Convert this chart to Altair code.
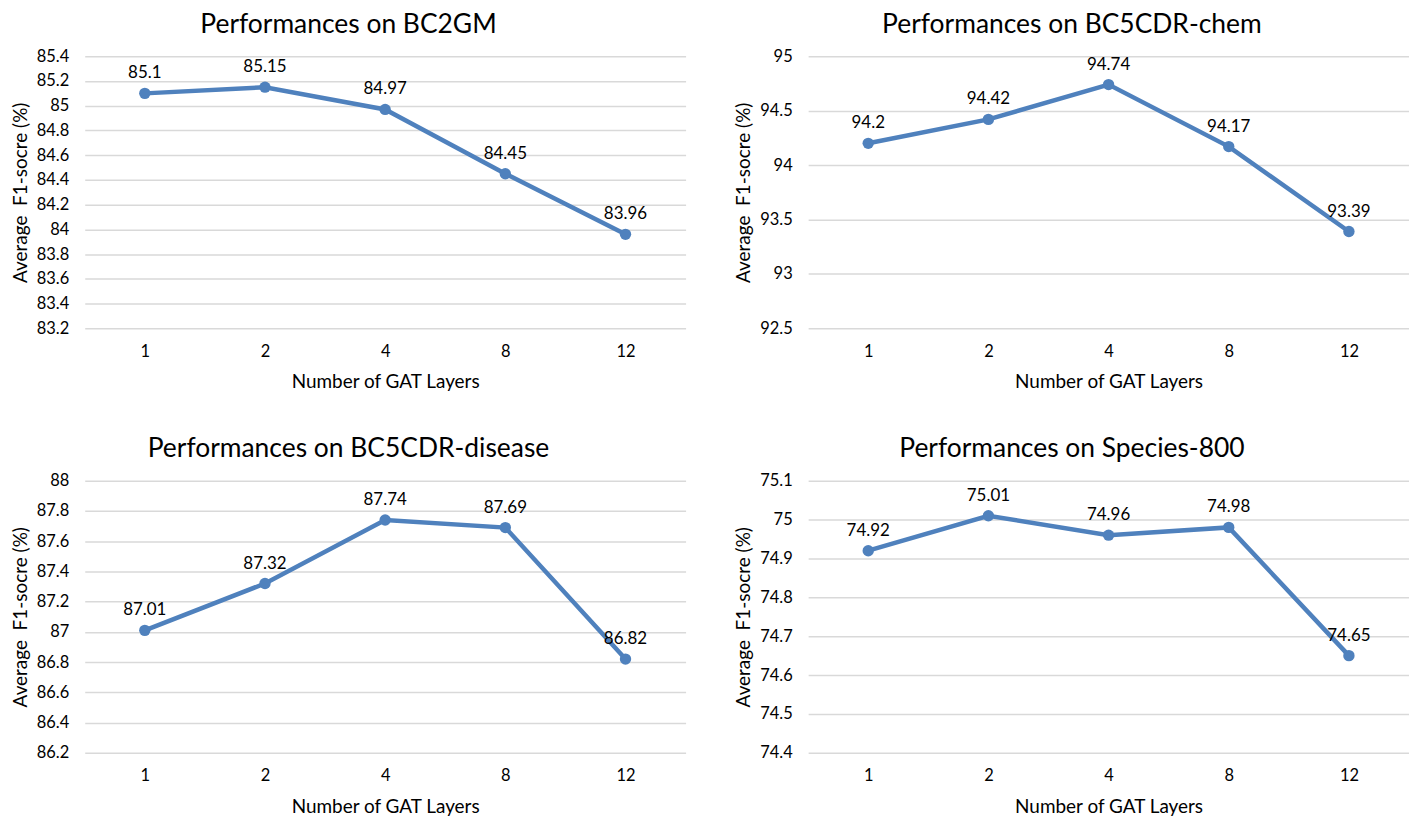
import altair as alt
import pandas as pd

layers = ["1", "2", "4", "8", "12"]

title_bc2gm = "Performances on BC2GM"
title_chem = "Performances on BC5CDR-chem"
title_disease = "Performances on BC5CDR-disease"
title_species = "Performances on Species-800"

bc2gm = [85.1, 85.15, 84.97, 84.45, 83.96]
chem = [94.2, 94.42, 94.74, 94.17, 93.39]
disease = [87.01, 87.32, 87.74, 87.69, 86.82]
species = [74.92, 75.01, 74.96, 74.98, 74.65]

bc2gm_ticks = [83.2, 83.4, 83.6, 83.8, 84.0, 84.2, 84.4, 84.6, 84.8, 85.0, 85.2, 85.4]
chem_ticks = [92.5, 93.0, 93.5, 94.0, 94.5, 95.0]
disease_ticks = [86.2, 86.4, 86.6, 86.8, 87.0, 87.2, 87.4, 87.6, 87.8, 88.0]
species_ticks = [74.4, 74.5, 74.6, 74.7, 74.8, 74.9, 75.0, 75.1]

BLUE = "#4F81BD"
FONT = "Lato"
W = 603
H = 273


def panel(title, values, ticks):
    df = pd.DataFrame({"layers": layers, "f1": values})
    x = alt.X(
        "layers:O",
        sort=layers,
        scale=alt.Scale(type="point", padding=0.5),
        axis=alt.Axis(
            title="Number of GAT Layers",
            labelAngle=0,
            ticks=False,
            domain=False,
            grid=False,
            labelPadding=15,
            titlePadding=13,
        ),
    )
    y = alt.Y(
        "f1:Q",
        scale=alt.Scale(domain=[ticks[0], ticks[-1]], nice=False, zero=False),
        axis=alt.Axis(
            values=ticks,
            format=".1~f",
            title="Average\u00a0 F1-socre (%)",
            ticks=False,
            domain=False,
            grid=True,
            labelPadding=16,
            titlePadding=6,
        ),
    )
    base = alt.Chart(df)
    line = base.mark_line(color=BLUE, strokeWidth=4.5).encode(x=x, y=y)
    pts = base.mark_circle(color=BLUE, size=130, opacity=1).encode(x=x, y=y)
    txt = base.mark_text(
        dy=-11, baseline="bottom", fontSize=17, font=FONT, color="black"
    ).encode(x=x, y=y, text=alt.Text("f1:Q", format=".2~f"))
    return alt.layer(line, pts, txt).properties(
        width=W,
        height=H,
        title=alt.TitleParams(
            text=title,
            fontSize=26.5,
            font=FONT,
            fontWeight="normal",
            color="black",
            frame="bounds",
            anchor="middle",
            offset=10,
        ),
    )


top = alt.hconcat(
    panel(title_bc2gm, bc2gm, bc2gm_ticks),
    panel(title_chem, chem, chem_ticks),
    spacing=49,
)
bottom = alt.hconcat(
    panel(title_disease, disease, disease_ticks),
    panel(title_species, species, species_ticks),
    spacing=49,
)

chart = (
    alt.vconcat(top, bottom, spacing=44)
    .properties(padding={"left": 3, "top": 2, "right": 0, "bottom": 0})
    .configure_view(stroke=None)
    .configure_axis(
        labelFont=FONT,
        titleFont=FONT,
        labelFontSize=16.5,
        titleFontSize=19,
        labelColor="black",
        titleColor="black",
        titleFontWeight="normal",
        gridColor="#D9D9D9",
        gridWidth=1.5,
    )
)

chart.save("out.html", embed_options={"renderer": "svg", "actions": False})
